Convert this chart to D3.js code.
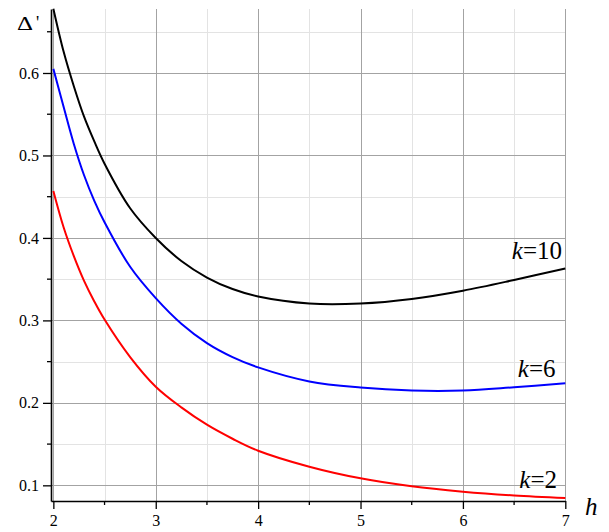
<!DOCTYPE html>
<html>
<head>
<meta charset="utf-8">
<script src="https://cdn.jsdelivr.net/npm/d3@7"></script>
<style>
  html, body { margin: 0; padding: 0; background: #fff; }
  svg { display: block; }
  text { font-family: "Liberation Serif", "Liberation Sans", Arimo, sans-serif; fill: #000; }
</style>
</head>
<body>
<svg id="chart" width="609" height="532"></svg>
<script>
// ---- data ----
const hValues = [2.0, 2.1, 2.2, 2.3, 2.4, 2.5, 2.75, 3.0, 3.25, 3.5, 3.75, 4.0, 4.5, 5.0, 5.5, 6.0, 6.5, 7.0];
const k10Values = [0.678, 0.626, 0.584, 0.547, 0.517, 0.490, 0.436, 0.400, 0.372, 0.352, 0.338, 0.329, 0.3205, 0.3205, 0.326, 0.336, 0.349, 0.363];
const k6Values  = [0.605, 0.559, 0.514, 0.476, 0.445, 0.419, 0.365, 0.327, 0.296, 0.2725, 0.2555, 0.2430, 0.2260, 0.2186, 0.2150, 0.2150, 0.2190, 0.2237];
const k2Values  = [0.457, 0.413, 0.378, 0.348, 0.323, 0.301, 0.2555, 0.2196, 0.1945, 0.1735, 0.1565, 0.1420, 0.1226, 0.1085, 0.0988, 0.0923, 0.0877, 0.0846];
const seriesNames = ["k=10", "k=6", "k=2"];
const xMajorTicks = [2, 3, 4, 5, 6, 7];
const xMinorTicks = [2.5, 3.5, 4.5, 5.5, 6.5];
const yMajorTicks = [0.1, 0.2, 0.3, 0.4, 0.5, 0.6];
const yMinorTicks = [0.15, 0.25, 0.35, 0.45, 0.55, 0.65];

const FONT = "'Liberation Serif', 'Liberation Sans', Arimo, sans-serif";

// ---- layout ----
const svg = d3.select("#chart");
const x = d3.scaleLinear().domain([1.977, 7]).range([51, 565.3]);
const y = d3.scaleLinear().domain([0.081, 0.6776]).range([501, 9]);
const x0 = x.range()[0], x1 = x.range()[1];
const yTop = y.range()[1], yBot = y.range()[0];

svg.append("rect").attr("width", 609).attr("height", 532).attr("fill", "#fff");

// grid
const grid = svg.append("g");
grid.selectAll(".vmin").data(xMinorTicks).join("line")
  .attr("x1", d => Math.round(x(d)) + 0.5).attr("x2", d => Math.round(x(d)) + 0.5)
  .attr("y1", yTop).attr("y2", yBot).attr("stroke", "#e3e3e3").attr("stroke-width", 1);
grid.selectAll(".hmin").data(yMinorTicks).join("line")
  .attr("y1", d => Math.round(y(d)) + 0.5).attr("y2", d => Math.round(y(d)) + 0.5)
  .attr("x1", x0).attr("x2", x1).attr("stroke", "#e3e3e3").attr("stroke-width", 1);
grid.selectAll(".vmaj").data(xMajorTicks).join("line")
  .attr("x1", d => Math.round(x(d)) + 0.5).attr("x2", d => Math.round(x(d)) + 0.5)
  .attr("y1", yTop).attr("y2", yBot).attr("stroke", "#a3a3a3").attr("stroke-width", 1);
grid.selectAll(".hmaj").data(yMajorTicks).join("line")
  .attr("y1", d => Math.round(y(d)) + 0.5).attr("y2", d => Math.round(y(d)) + 0.5)
  .attr("x1", x0).attr("x2", x1).attr("stroke", "#a3a3a3").attr("stroke-width", 1);

// axes
const xAxis = d3.axisBottom(x).tickValues(xMajorTicks).tickFormat(d3.format("d"))
  .tickSize(8).tickSizeOuter(0).tickPadding(6);
const yAxis = d3.axisLeft(y).tickValues(yMajorTicks).tickFormat(d3.format(".1f"))
  .tickSize(8).tickSizeOuter(0).tickPadding(4);

const gx = svg.append("g").attr("transform", `translate(0,${yBot})`).call(xAxis);
const gy = svg.append("g").attr("transform", `translate(${x0},0)`).call(yAxis);
[gx, gy].forEach(g => {
  g.attr("font-family", FONT);
  g.select(".domain").attr("stroke", "#000").attr("stroke-width", 1.6);
  g.selectAll(".tick line").attr("stroke", "#000").attr("stroke-width", 1.3);
  g.selectAll(".tick text").style("font-family", FONT).attr("font-size", 16).attr("fill", "#000");
});
// minor ticks
gx.selectAll(".mtick").data(xMinorTicks).join("line")
  .attr("x1", d => x(d)).attr("x2", d => x(d)).attr("y1", 0).attr("y2", 4)
  .attr("stroke", "#000").attr("stroke-width", 1.3);
gy.selectAll(".mtick").data(yMinorTicks).join("line")
  .attr("y1", d => y(d)).attr("y2", d => y(d)).attr("x1", 0).attr("x2", -4)
  .attr("stroke", "#000").attr("stroke-width", 1.3);

// curves
const line = d3.line().x(d => x(d[0])).y(d => y(d[1])).curve(d3.curveCatmullRom.alpha(0.5));
const series = [
  { name: seriesNames[0], values: k10Values, color: "#000000" },
  { name: seriesNames[1], values: k6Values, color: "#0000ff" },
  { name: seriesNames[2], values: k2Values, color: "#ff0000" }
];
svg.append("clipPath").attr("id", "plotclip").append("rect")
  .attr("x", x0).attr("y", yTop - 1).attr("width", x1 - x0 + 2).attr("height", yBot - yTop + 1);
svg.append("g").attr("clip-path", "url(#plotclip)")
  .selectAll("path").data(series).join("path")
  .attr("d", s => line(hValues.map((h, i) => [h, s.values[i]])))
  .attr("fill", "none").attr("stroke", s => s.color).attr("stroke-width", 2);

// curve labels
const labelPos = [
  { xr: 562, yb: 258.5 },
  { xr: 555.5, yb: 377 },
  { xr: 557, yb: 487.5 }
];
series.forEach((s, i) => {
  const t = svg.append("text").attr("x", labelPos[i].xr).attr("y", labelPos[i].yb)
    .attr("text-anchor", "end").attr("font-size", 25).style("font-family", FONT);
  const parts = s.name.split("=");
  t.append("tspan").attr("font-style", "italic").text(parts[0]);
  t.append("tspan").text("=" + parts[1]);
});

// axis titles
const yt = svg.append("text").attr("x", 17).attr("y", 29.5).attr("font-size", 18).style("font-family", FONT);
yt.append("tspan").attr("textLength", 16).attr("lengthAdjust", "spacingAndGlyphs").text("Δ");
yt.append("tspan").attr("dx", 3).attr("dy", -1).text("'");
svg.append("text").attr("x", 585).attr("y", 514.5).attr("font-size", 25).style("font-family", FONT)
  .attr("font-style", "italic").text("h");
</script>
</body>
</html>
